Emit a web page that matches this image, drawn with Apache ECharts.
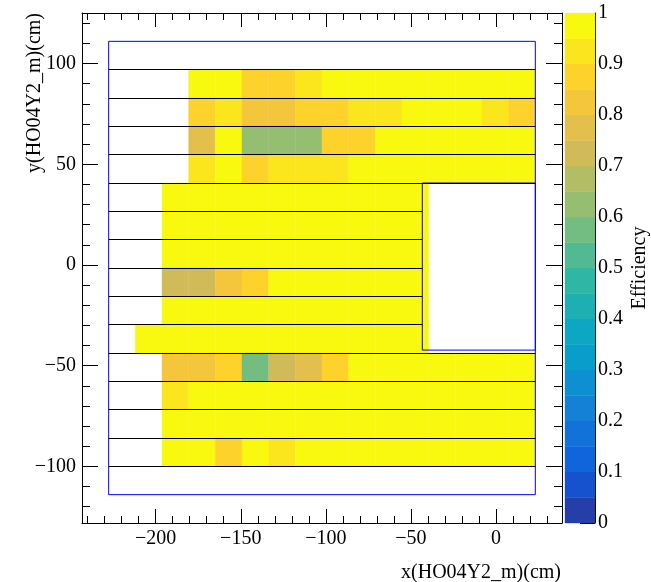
<!DOCTYPE html>
<html><head><meta charset="utf-8">
<script src="https://cdn.jsdelivr.net/npm/echarts@6/dist/echarts.min.js"></script>
<style>html,body{margin:0;padding:0;background:#fff}#c{width:651px;height:582px}</style>
</head><body><div id="c"></div><script>
// ---- data ----
const xEdges = [-243.30,-227.63,-211.96,-196.28,-180.61,-164.94,-149.27,-133.60,-117.92,-102.25,-86.58,-70.91,-55.24,-39.56,-23.89,-8.22,7.45,23.12,38.80];
const yEdges = [-128.14,-114.07,-100.00,-85.93,-71.86,-57.79,-43.72,-29.65,-15.58,-1.51,12.56,26.63,40.70,54.77,68.84,82.91,96.98,111.05,125.12];
// efficiency rows, listed from top (y bin 15) to bottom (y bin 2); one value per x bin, null = empty
const rowBins = [15,14,13,12,11,10,9,8,7,6,5,4,3,2];
const efficiency = [
 [null,null,null,null,0.98,0.97,0.88,0.87,0.93,0.98,0.99,0.98,0.97,0.98,0.99,0.98,0.97,null],
 [null,null,null,null,0.88,0.93,0.83,0.82,0.88,0.87,0.92,0.93,0.97,0.98,0.97,0.93,0.88,null],
 [null,null,null,null,0.78,0.97,0.62,0.63,0.62,0.88,0.87,0.98,0.97,0.99,0.98,0.97,0.98,null],
 [null,null,null,null,0.93,0.98,0.88,0.93,0.92,0.93,0.98,0.97,0.98,0.99,0.98,0.97,0.98,null],
 [null,null,null,0.98,0.99,0.98,0.97,0.98,0.99,0.98,0.97,0.98,0.99,null,null,null,null,null],
 [null,null,null,0.97,0.98,0.99,0.98,0.97,0.98,0.99,0.98,0.97,0.98,null,null,null,null,null],
 [null,null,null,0.98,0.97,0.98,0.99,0.98,0.97,0.98,0.99,0.98,0.97,null,null,null,null,null],
 [null,null,null,0.73,0.72,0.83,0.88,0.98,0.97,0.98,0.99,0.98,0.97,null,null,null,null,null],
 [null,null,null,0.98,0.99,0.98,0.97,0.98,0.99,0.98,0.97,0.98,0.99,null,null,null,null,null],
 [null,null,0.98,0.97,0.98,0.99,0.98,0.97,0.98,0.99,0.98,0.97,0.98,null,null,null,null,null],
 [null,null,null,0.83,0.82,0.88,0.57,0.73,0.78,0.87,0.98,0.97,0.98,0.99,0.98,0.97,0.98,null],
 [null,null,null,0.93,0.98,0.97,0.98,0.99,0.98,0.97,0.98,0.99,0.98,0.97,0.98,0.99,0.98,null],
 [null,null,null,0.98,0.97,0.98,0.99,0.98,0.97,0.98,0.99,0.98,0.97,0.98,0.99,0.98,0.97,null],
 [null,null,null,0.98,0.97,0.88,0.98,0.93,0.98,0.97,0.98,0.99,0.98,0.97,0.98,0.99,0.98,null]
];
// detector outline
const outerBoxX = [-227.63, 23.12];
const outerBoxY = [-114.07, 111.05];
const holeBoxX = [-43.30, 23.12];
const holeBoxY = [-42.28, 40.70];
const slabFullY = [96.98, 82.91, 68.84, 54.77, 40.70, -43.72, -57.79, -71.86, -85.93, -100.00];
const slabShortY = [26.63, 12.56, -1.51, -15.58, -29.65];
// ticks
const xMajor = [-200,-150,-100,-50,0];
const xMinor = [-240,-230,-220,-210,-190,-180,-170,-160,-140,-130,-120,-110,-90,-80,-70,-60,-40,-30,-20,-10,10,20,30];
const yMajor = [-100,-50,0,50,100];
const yMinor = [-120,-110,-90,-80,-70,-60,-40,-30,-20,-10,10,20,30,40,60,70,80,90,110,120];
const nLevels = 20;
const xTitle = 'x(HO04Y2_m)(cm)';
const yTitle = 'y(HO04Y2_m)(cm)';
const zTitle = 'Efficiency';

// ---- palette (ROOT kBird) ----
const bStops = [0.0,0.125,0.25,0.375,0.5,0.625,0.75,0.875,1.0];
const bR = [0.2082,0.0592,0.0780,0.0232,0.1802,0.5301,0.8186,0.9956,0.9764];
const bG = [0.1664,0.3599,0.5041,0.6419,0.7178,0.7492,0.7328,0.7862,0.9832];
const bB = [0.5293,0.8684,0.8385,0.7914,0.6425,0.4662,0.3499,0.1968,0.0539];
function gradient(n){
  const t=[];
  for(let g=1;g<bStops.length;g++){
    const nc=Math.floor(n*bStops[g])-Math.floor(n*bStops[g-1]);
    for(let c=0;c<nc;c++){
      t.push([bR[g-1]+c*(bR[g]-bR[g-1])/nc, bG[g-1]+c*(bG[g]-bG[g-1])/nc, bB[g-1]+c*(bB[g]-bB[g-1])/nc]);
    }
  }
  return t;
}
const table = gradient(255);
const pieces = [];
for(let i=0;i<nLevels;i++){
  const c = table[Math.floor((i+0.99)*255/nLevels)];
  const col = 'rgb('+c.map(v=>Math.round(v*255)).join(',')+')';
  const p = {gte:i/nLevels, color:col};
  if(i===nLevels-1) p.lte = 1.0001; else p.lt=(i+1)/nLevels;
  pieces.push(p);
}

// ---- build items ----
const cells = [];
efficiency.forEach((row, r) => {
  const yb = rowBins[r];
  row.forEach((v, xb) => {
    if (v === null) return;
    cells.push([xEdges[xb], xEdges[xb+1], yEdges[yb], yEdges[yb+1], v]);
  });
});
const barItems = [];
for(let i=0;i<nLevels;i++) barItems.push([0,1,i/nLevels,(i+1)/nLevels,(i+0.5)/nLevels]);

const boxes = [
  {coords:[[outerBoxX[0],outerBoxY[0]],[outerBoxX[1],outerBoxY[0]],[outerBoxX[1],outerBoxY[1]],[outerBoxX[0],outerBoxY[1]],[outerBoxX[0],outerBoxY[0]]]},
  {coords:[[holeBoxX[0],holeBoxY[0]],[holeBoxX[1],holeBoxY[0]],[holeBoxX[1],holeBoxY[1]],[holeBoxX[0],holeBoxY[1]],[holeBoxX[0],holeBoxY[0]]]}
];
const slabs = [];
slabFullY.forEach(y => slabs.push({coords:[[outerBoxX[0],y],[outerBoxX[1],y]]}));
slabShortY.forEach(y => slabs.push({coords:[[outerBoxX[0],y],[holeBoxX[0],y]]}));

// ---- render ----
const FONT = '"Liberation Serif","Times New Roman",serif';
const minus = v => String(v).replace('-', '\u2212');
function ax(dim, pos, ticks, len, showLine, labels){
  const e = dim==='x' ? [xEdges[0], xEdges[18]] : [yEdges[0], yEdges[18]];
  return {
    type:'value', gridIndex:0, position:pos, min:e[0], max:e[1],
    axisLine:{show:showLine, onZero:false, lineStyle:{color:'#000', width:1}},
    axisTick:{show:true, inside:true, length:len, customValues:ticks, lineStyle:{color:'#000', width:1}},
    axisLabel: labels ? {show:true, customValues:ticks, formatter:minus, fontFamily:FONT, fontSize:20, color:'#000', margin: dim==='x'?6:6} : {show:false},
    splitLine:{show:false}
  };
}
const chart = echarts.init(document.getElementById('c'), null, {renderer:'canvas'});
chart.setOption({
  animation:false,
  backgroundColor:'#fff',
  grid:[
    {left:82, top:13, width:480, height:510},
    {left:565, top:13, width:30, height:510}
  ],
  xAxis:[
    ax('x','bottom',xMajor,14,true,true),
    ax('x','bottom',xMinor,7,false,false),
    ax('x','top',xMajor,14,true,false),
    ax('x','top',xMinor,7,false,false),
    {type:'value', gridIndex:1, min:0, max:1, show:false}
  ],
  yAxis:[
    ax('y','left',yMajor,16,true,true),
    ax('y','left',yMinor,8,false,false),
    ax('y','right',yMajor,16,true,false),
    ax('y','right',yMinor,8,false,false),
    {type:'value', gridIndex:1, position:'right', min:0, max:1, interval:0.1,
     axisLine:{show:true, onZero:false, lineStyle:{color:'#000', width:1}},
     axisTick:{show:true, inside:true, length:15, lineStyle:{color:'#000', width:1}},
     axisLabel:{show:true, margin:3, fontFamily:FONT, fontSize:20, color:'#000', formatter:v=>String(Math.round(v*10)/10)},
     splitLine:{show:false}}
  ],
  visualMap:{type:'piecewise', show:false, dimension:4, seriesIndex:[0,3], pieces:pieces},
  series:[
    {type:'custom', xAxisIndex:0, yAxisIndex:0, data:cells, clip:true,
     renderItem:(params, api)=>{
       const p0 = api.coord([api.value(0), api.value(3)]);
       const p1 = api.coord([api.value(1), api.value(2)]);
       const c = api.visual('color');
       return {type:'rect', shape:{x:p0[0], y:p0[1], width:p1[0]-p0[0], height:p1[1]-p0[1]}, style:{fill:c, stroke:c, lineWidth:0.4}};
     }},
    {type:'lines', coordinateSystem:'cartesian2d', xAxisIndex:0, yAxisIndex:0, polyline:true, data:boxes,
     lineStyle:{color:'#0000ff', width:1, opacity:1}, silent:true},
    {type:'lines', coordinateSystem:'cartesian2d', xAxisIndex:0, yAxisIndex:0, data:slabs,
     lineStyle:{color:'#000', width:1, opacity:1}, silent:true},
    {type:'custom', xAxisIndex:4, yAxisIndex:4, data:barItems,
     renderItem:(params, api)=>{
       const p0 = api.coord([api.value(0), api.value(3)]);
       const p1 = api.coord([api.value(1), api.value(2)]);
       const c = api.visual('color');
       return {type:'rect', shape:{x:p0[0], y:p0[1], width:p1[0]-p0[0], height:p1[1]-p0[1]}, style:{fill:c, stroke:c, lineWidth:0.4}};
     }}
  ],
  graphic:[
    {type:'text', x:561, y:573, style:{text:xTitle, font:'20px '+FONT, fill:'#000', textAlign:'right', textVerticalAlign:'middle'}},
    {type:'text', x:35, y:13, rotation:Math.PI/2, style:{text:yTitle, font:'20px '+FONT, fill:'#000', textAlign:'right', textVerticalAlign:'middle'}},
    {type:'text', x:640, y:268, rotation:Math.PI/2, style:{text:zTitle, font:'20px '+FONT, fill:'#000', textAlign:'center', textVerticalAlign:'middle'}}
  ]
});
</script></body></html>
